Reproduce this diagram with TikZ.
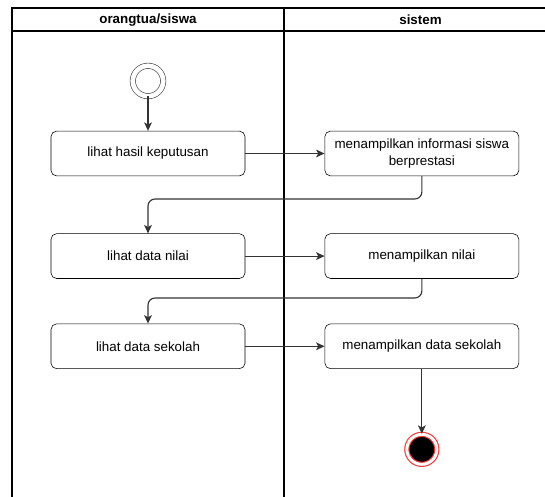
\documentclass[tikz,border=0pt]{standalone}
\usepackage{fontspec}
\setmainfont{Liberation Sans}
\usepackage{tikz}
\usetikzlibrary{positioning,arrows.meta,calc}
\definecolor{laneLine}{HTML}{000000}
\definecolor{flowGray}{HTML}{333333}
\definecolor{endRed}{HTML}{FF3333}
\tikzset{
  actnode/.style={draw, rounded corners=4pt, minimum width=4.85cm,
                  minimum height=1.12cm, align=center, inner sep=2pt,
                  font=\fontsize{9.5}{11.5}\selectfont},
  lanehead/.style={font=\fontsize{9.5}{11.5}\selectfont\bfseries},
  startnode/.style={draw=flowGray, circle, double=white, double distance=3.4pt,
                    minimum size=0.76cm, inner sep=0pt},
  endnode/.style={draw=endRed, circle, fill=black, minimum size=0.75cm,
                  inner sep=0pt, line width=0.8pt, double=white,
                  double distance=2.1pt},
  flowarrow/.style={-{Stealth[length=6pt, width=5.5pt, inset=1.5pt]},
                    draw=flowGray, thick, rounded corners=5pt},
  laneline/.style={draw=laneLine, line width=0.9pt},
}
\begin{document}
\begin{tikzpicture}[x=0.025cm, y=-0.025cm, node distance=1.43cm and 1.98cm]
\useasboundingbox (0,0) rectangle (545,497);
%% Swimlanes
\draw[laneline] (12,497) -- (12,8) -- (545,8);
\draw[laneline] (12,31) -- (545,31);
\draw[laneline] (284,8) -- (284,497);
\node[lanehead] (headL) at (148,20) {orangtua/siswa};
\node[lanehead] (headR) at (420.5,20) {sistem};
%% Nodes
\node[startnode] (start) at (148,81) {};
\node[actnode] (a1) at (148,153.5) {lihat hasil keputusan};
\node[actnode, right=of a1] (b1) {menampilkan informasi siswa\\berprestasi};
\node[actnode, below=of a1] (a2) {lihat data nilai};
\node[actnode, right=of a2] (b2) {menampilkan nilai};
\node[actnode, below=1.12cm of a2] (a3) {lihat data sekolah};
\node[actnode, right=of a3] (b3) {menampilkan data sekolah};
\node[endnode, below=1.62cm of b3] (stop) {};
%% Edges
\draw[flowarrow] (start) -- (a1);
\draw[flowarrow] (a1) -- (b1);
\draw[flowarrow] (b1.south) |- (148,199) -- (a2.north);
\draw[flowarrow] (a2) -- (b2);
\draw[flowarrow] (b2.south) |- (148,298) -- (a3.north);
\draw[flowarrow] (a3) -- (b3);
\draw[flowarrow] (b3) -- (stop);
\end{tikzpicture}
\end{document}
